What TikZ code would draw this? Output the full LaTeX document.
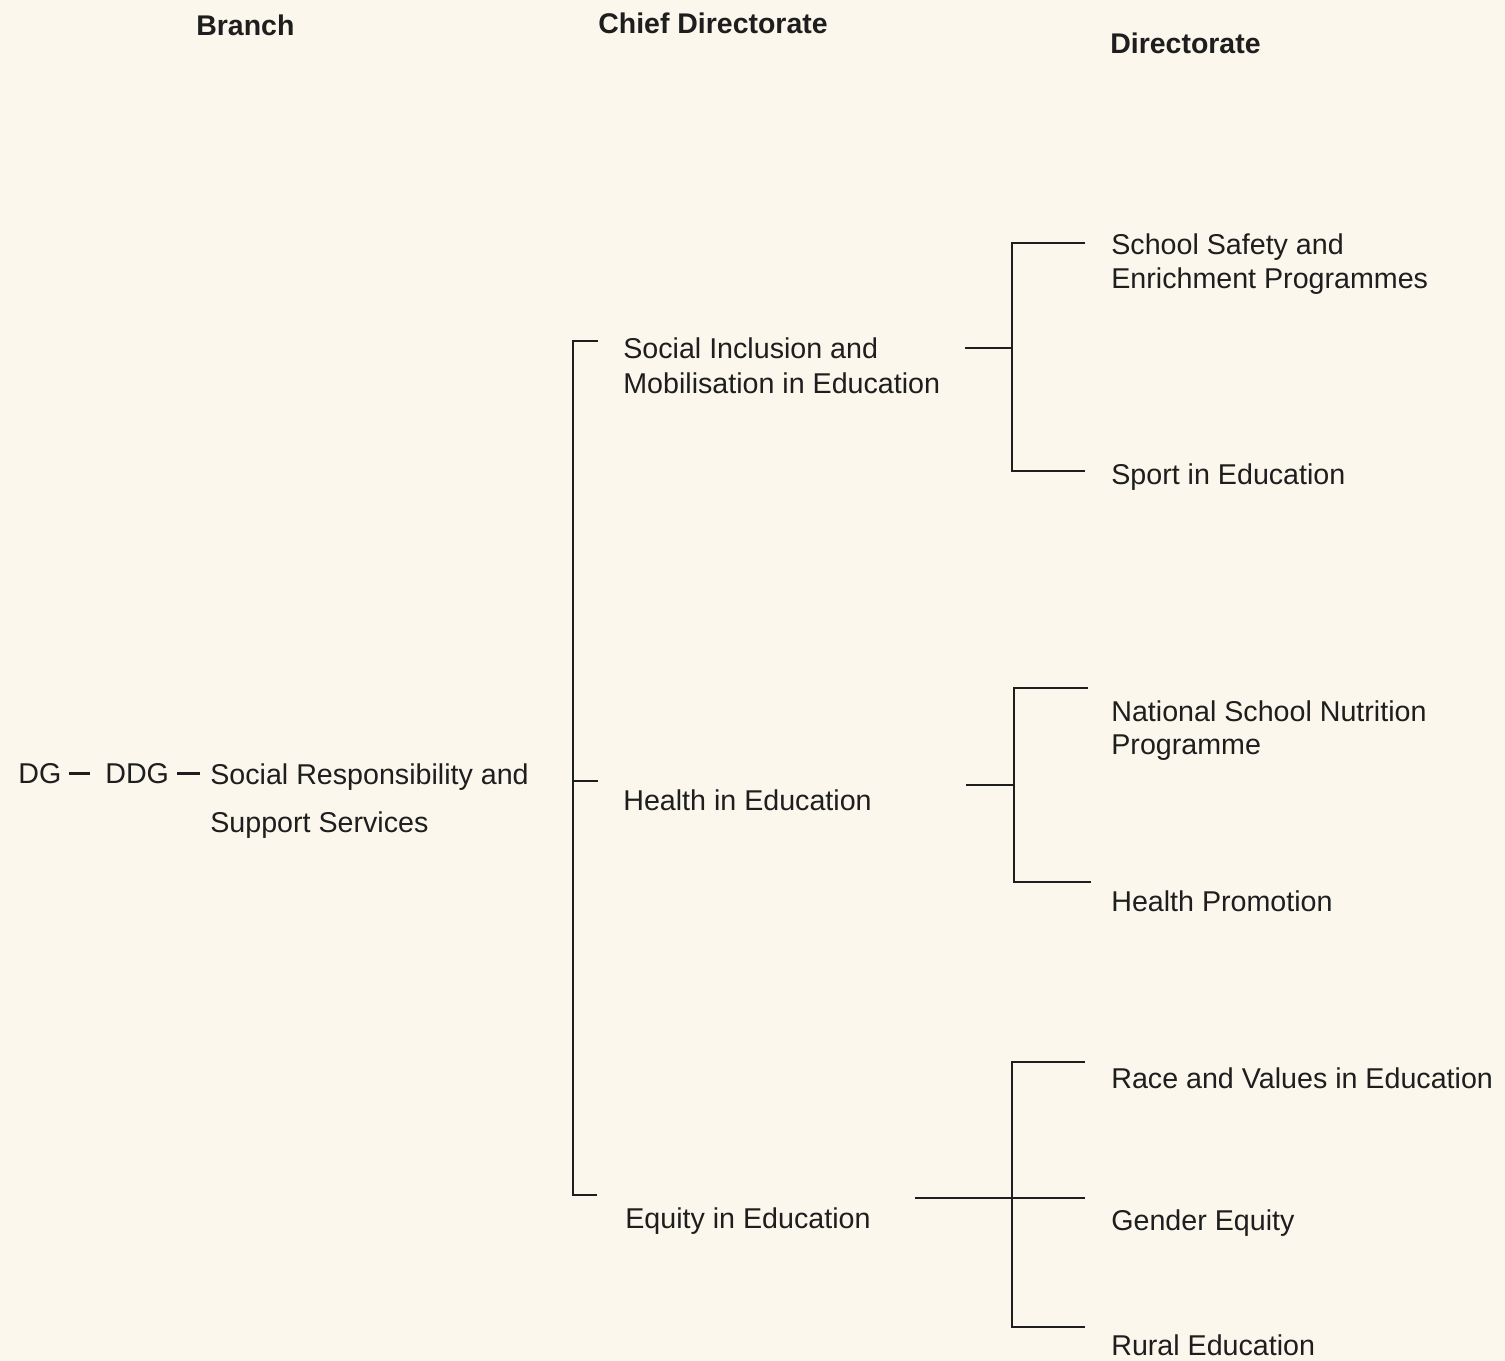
\documentclass[tikz,border=0pt]{standalone}
\usepackage{fontspec}
\setmainfont{Liberation Sans}
\definecolor{paper}{RGB}{252,247,237}
\definecolor{ink}{RGB}{30,30,30}

\begin{document}
\begin{tikzpicture}[x=0.02cm, y=-0.02cm,
    txt/.style={anchor=north west, inner sep=0pt, align=left, text=ink, font=\fontsize{16.3}{20}\selectfont},
    heading/.style={txt, font=\fontsize{16.2}{20}\selectfont\bfseries},
    link/.style={draw=ink, line width=1.3pt}]

    \fill[paper] (0,0) rectangle (1505,1361);
    \useasboundingbox (0,0) rectangle (1505,1361);

    % column headings
    \node[heading] (hbranch) at (196,15) {Branch};
    \node[heading] (hchief) at (598,13) {Chief Directorate};
    \node[heading] (hdir) at (1110,33) {Directorate};

    % branch
    \node[txt] (dg) at (18,763) {DG};
    \node[txt] (ddg) at (105,763) {DDG};
    \node[txt, font=\fontsize{16.3}{27.8}\selectfont] (srss) at (210,763) {Social Responsibility and\\Support Services};
    \draw[link, shorten <=0.14cm, shorten >=0.3cm] (dg.east) -- (ddg.west);
    \draw[link, shorten <=0.16cm, shorten >=0.2cm] (ddg.east) -- (ddg.east -| srss.west);

    % chief directorates
    \node[txt, font=\fontsize{16.3}{20.2}\selectfont] (sime) at (623,337) {Social Inclusion and\\Mobilisation in Education};
    \node[txt] (hie) at (623,789) {Health in Education};
    \node[txt] (eie) at (625,1207) {Equity in Education};

    % directorates
    \node[txt, font=\fontsize{16.3}{19.8}\selectfont] (ssep) at (1111,233) {School Safety and\\Enrichment Programmes};
    \node[txt] (sport) at (1111,463) {Sport in Education};
    \node[txt, font=\fontsize{16.3}{18.9}\selectfont] (nsnp) at (1111,700) {National School Nutrition\\Programme};
    \node[txt] (hp) at (1111,890) {Health Promotion};
    \node[txt] (rve) at (1111,1067) {Race and Values in Education};
    \node[txt] (ge) at (1111,1209) {Gender Equity};
    \node[txt] (re) at (1111,1334) {Rural Education};

    % bracket: branch -> chief directorates
    \coordinate (sime-in) at (598,341);
    \coordinate (hie-in) at (598,781);
    \coordinate (eie-in) at (597,1195);
    \coordinate (cd-bot) at (573,1195);
    \draw[link] (sime-in) -| (cd-bot) -- (eie-in);
    \draw[link] (hie-in) -- (hie-in -| cd-bot);

    % bracket: social inclusion
    \coordinate (sime-out) at (965,348);
    \coordinate (ssep-in) at (1085,243);
    \coordinate (sport-in) at (1085,471);
    \coordinate (sime-bot) at (1012,471);
    \draw[link] (ssep-in) -| (sime-bot) -- (sport-in);
    \draw[link] (sime-out) -- (sime-out -| sime-bot);

    % bracket: health
    \coordinate (hie-out) at (966,785);
    \coordinate (nsnp-in) at (1088,688);
    \coordinate (hp-in) at (1091,882);
    \coordinate (hie-bot) at (1014,882);
    \draw[link] (nsnp-in) -| (hie-bot) -- (hp-in);
    \draw[link] (hie-out) -- (hie-out -| hie-bot);

    % bracket: equity
    \coordinate (eie-out) at (915,1198);
    \coordinate (rve-in) at (1085,1062);
    \coordinate (ge-in) at (1085,1198);
    \coordinate (re-in) at (1085,1327);
    \coordinate (eie-bot) at (1012,1327);
    \draw[link] (rve-in) -| (eie-bot) -- (re-in);
    \draw[link] (eie-out) -- (ge-in);

\end{tikzpicture}
\end{document}
